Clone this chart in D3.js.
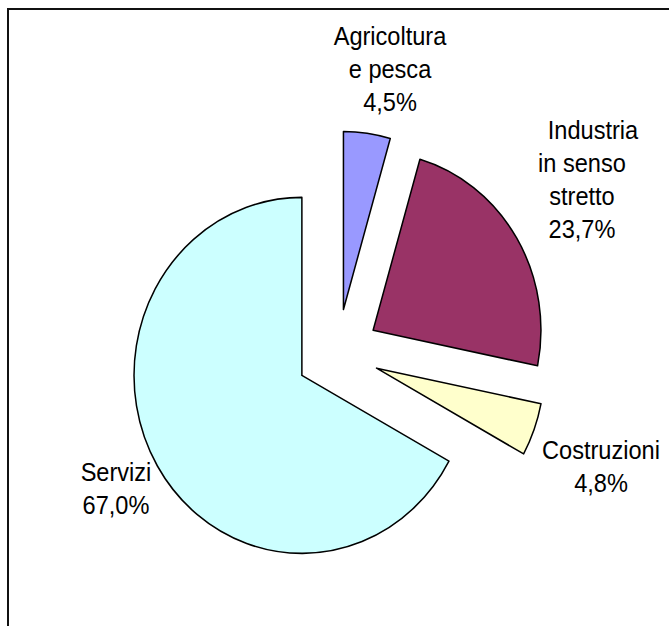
<!DOCTYPE html>
<html>
<head>
<meta charset="utf-8">
<script src="https://cdn.jsdelivr.net/npm/d3@7/dist/d3.min.js"></script>
<style>
  body { margin: 0; background: #fff; }
  text { font-family: "Liberation Sans", Arial, sans-serif; font-size: 25px; fill: #000; }
</style>
</head>
<body>
<div id="chart"></div>
<script>
// data
var categories = ["Agricoltura e pesca", "Industria in senso stretto", "Costruzioni", "Servizi"];
var labelLines = [["Agricoltura", "e pesca"], ["Industria", "in senso", "stretto"], ["Costruzioni"], ["Servizi"]];
var shares = [4.5, 23.7, 4.8, 67.0];

var colors = ["#9999ff", "#993366", "#ffffcc", "#ccffff"];

var svgWidth = 669, svgHeight = 626;
// the original picture is a bit narrower than it is tall
var sx = 0.943;
var cx = 358, cy = 353, radius = 178, explode = 44;

// label anchors in page pixels (centre x, first baseline)
var labelAt = [[390, 45], [582, 139], [601, 459], [116, 481]];
var lineHeight = 33;

var itFormat = d3.formatLocale({decimal: ",", thousands: ".", grouping: [3], currency: ["", " €"]}).format(".1f");

var svg = d3.select("#chart")
  .append("svg")
  .attr("width", svgWidth)
  .attr("height", svgHeight);

// chart frame, runs off the right and bottom edge
svg.append("rect")
  .attr("x", 8)
  .attr("y", 9)
  .attr("width", 700)
  .attr("height", 700)
  .attr("fill", "none")
  .attr("stroke", "#111")
  .attr("stroke-width", 2);

var chartGroup = svg.append("g")
  .attr("transform", `scale(${sx}, 1)`);

var pie = d3.pie().sort(null).value(d => d);
var arcs = pie(shares);

var arc = d3.arc().innerRadius(0).outerRadius(radius);

chartGroup.selectAll("path.slice")
  .data(arcs)
  .enter()
  .append("path")
  .attr("class", "slice")
  .attr("d", arc)
  .attr("transform", function(d) {
    var mid = (d.startAngle + d.endAngle) / 2;
    return `translate(${cx + explode * Math.sin(mid)}, ${cy - explode * Math.cos(mid)})`;
  })
  .attr("fill", (d, i) => colors[i])
  .attr("stroke", "#000")
  .attr("stroke-width", 1.6)
  .attr("stroke-linejoin", "round");

// data labels: category name lines then the percentage
var labels = chartGroup.selectAll("text.label")
  .data(arcs)
  .enter()
  .append("text")
  .attr("class", "label")
  .attr("text-anchor", "middle")
  .attr("x", (d, i) => labelAt[i][0] / sx)
  .attr("y", (d, i) => labelAt[i][1]);

labels.each(function(d, i) {
  var lines = labelLines[i].concat([itFormat(d.value) + "%"]);
  var t = d3.select(this);
  lines.forEach(function(line, j) {
    t.append("tspan")
      .attr("x", (labelAt[i][0] + (i === 1 && j === 0 ? 11 : 0)) / sx)
      .attr("dy", j === 0 ? 0 : lineHeight)
      .text(line);
  });
});
</script>
</body>
</html>
